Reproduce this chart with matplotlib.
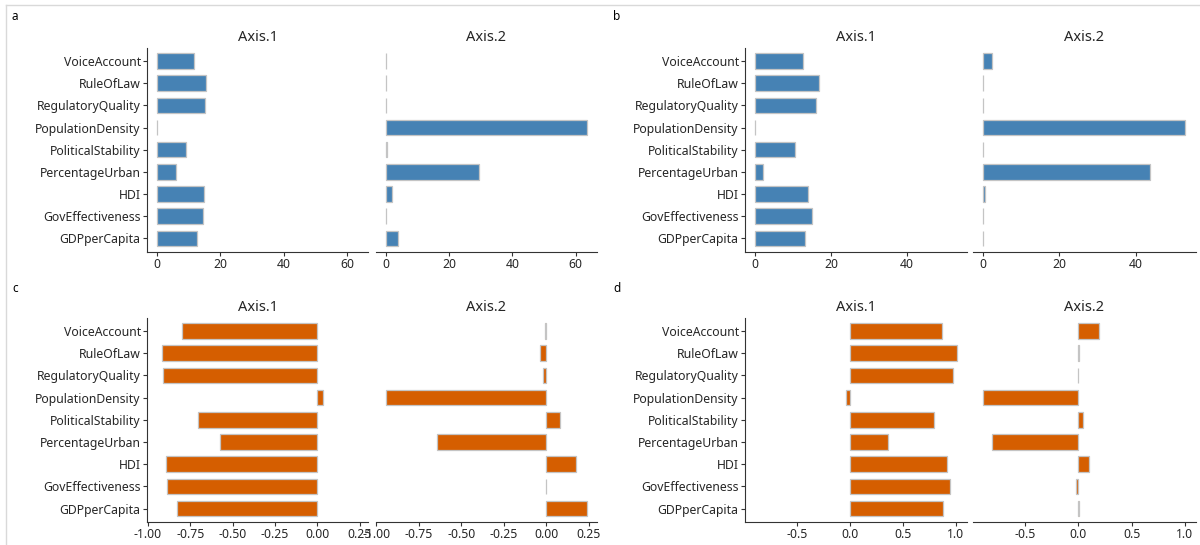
import numpy as np
import matplotlib.pyplot as plt
from matplotlib.ticker import MultipleLocator, FormatStrFormatter
from matplotlib.lines import Line2D

plt.rcParams['font.family'] = ['Noto Sans', 'DejaVu Sans']

# variaveis (de cima para baixo)
variaveis = ['VoiceAccount', 'RuleOfLaw', 'RegulatoryQuality', 'PopulationDensity',
             'PoliticalStability', 'PercentageUrban', 'HDI', 'GovEffectiveness', 'GDPperCapita']

# a) contribuicoes (%)
a_axis1 = [11.7, 15.5, 15.3, 0.1, 9.2, 6.1, 14.7, 14.5, 12.7]
a_axis2 = [0.1, 0.1, 0.1, 63.5, 0.6, 29.5, 2.0, 0.1, 4.0]
# b) contribuicoes (%)
b_axis1 = [12.7, 16.9, 15.9, 0.1, 10.6, 2.2, 14.0, 14.9, 13.1]
b_axis2 = [2.3, 0.05, 0.05, 53.0, 0.05, 43.8, 0.6, 0.05, 0.05]
# c) cargas
c_axis1 = [-0.80, -0.919, -0.912, 0.03, -0.707, -0.577, -0.894, -0.887, -0.831]
c_axis2 = [-0.005, -0.04, -0.02, -0.946, 0.079, -0.646, 0.173, -0.003, 0.239]
# d) cargas
d_axis1 = [0.868, 1.005, 0.976, -0.036, 0.789, 0.362, 0.911, 0.940, 0.882]
d_axis2 = [0.19, 0.003, -0.003, -0.893, 0.043, -0.813, 0.105, -0.025, 0.005]

paineis = [
    ('a', a_axis1, a_axis2, '#4682B4', 20, '%d'),
    ('b', b_axis1, b_axis2, '#4682B4', 20, '%d'),
    ('c', c_axis1, c_axis2, '#D55E00', 0.25, '%.2f'),
    ('d', d_axis1, d_axis2, '#D55E00', 0.5, '%.1f'),
]

W, H = 1200, 545
fig = plt.figure(figsize=(W / 100, H / 100), dpi=100)

# posicoes em pixels: (x esquerda, largura) das duas facetas e (topo, base) das linhas
colunas = [[(147, 221), (375.5, 221.5)], [(745, 221.6), (973, 222.5)]]
linhas = [(47.7, 251.7), (317.7, 522)]
letras_pos = [(12, 17), (613, 17), (12, 288), (613, 288)]

y = np.arange(len(variaveis), 0, -1)
cor_txt = '#262626'

for k, (letra, v1, v2, cor, passo, fmt) in enumerate(paineis):
    linha = linhas[k // 2]
    cols = colunas[k % 2]
    todos = np.array(v1 + v2)
    lo, hi = min(0, todos.min()), max(0, todos.max())
    pad = 0.05 * (hi - lo)
    for j, (vals, titulo) in enumerate([(v1, 'Axis.1'), (v2, 'Axis.2')]):
        x0, w = cols[j]
        ax = fig.add_axes([x0 / W, 1 - linha[1] / H, w / W, (linha[1] - linha[0]) / H])
        ax.barh(y, vals, height=0.7, color=cor, edgecolor='#C4C4C4', linewidth=0.9)
        ax.set_xlim(lo - pad, hi + pad)
        ax.set_ylim(0.4, len(variaveis) + 0.6)
        ax.xaxis.set_major_locator(MultipleLocator(passo))
        ax.xaxis.set_major_formatter(FormatStrFormatter(fmt))
        for s in ['top', 'right']:
            ax.spines[s].set_visible(False)
        ax.spines['bottom'].set_color('#333333')
        ax.spines['left'].set_color('#333333')
        ax.tick_params(axis='both', labelsize=8.8, colors='#333333', labelcolor=cor_txt,
                       length=3, width=0.8, pad=1.5)
        if j == 0:
            ax.set_yticks(y)
            ax.set_yticklabels(variaveis)
        else:
            ax.spines['left'].set_visible(False)
            ax.set_yticks([])
        ax.set_title(titulo, fontsize=10.5, color=cor_txt, pad=5)
    lx, ly = letras_pos[k]
    fig.text(lx / W, 1 - ly / H, letra, fontsize=8.5, color='black', ha='left', va='center')

# moldura cinza
fig.add_artist(Line2D([6 / W, 1], [1 - 5 / H, 1 - 5 / H], color='#D9D9D9', lw=1))
fig.add_artist(Line2D([6 / W, 6 / W], [0, 1 - 5 / H], color='#D9D9D9', lw=1))

fig.savefig('out.png', dpi=100)
